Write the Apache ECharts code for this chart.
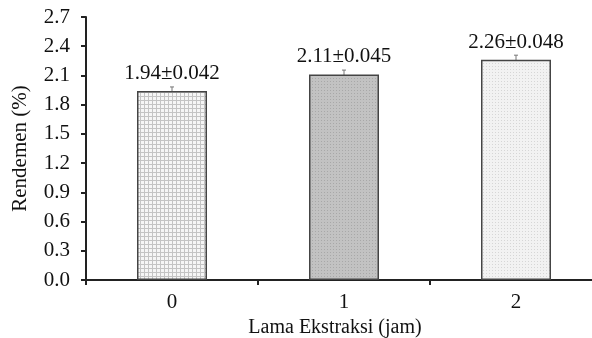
<!DOCTYPE html>
<html>
<head>
<meta charset="utf-8">
<script src="https://cdn.jsdelivr.net/npm/echarts@6/dist/echarts.min.js"></script>
<style>
  html, body { margin: 0; padding: 0; background: #fff; }
  #chart { width: 592px; height: 338px; }
</style>
</head>
<body>
<div id="chart"></div>
<script>
const categories = ['0', '1', '2'];
const means = [1.94, 2.11, 2.26];
const errors = [0.042, 0.045, 0.048];
const yMin = 0;
const yMax = 2.7;
const yStep = 0.3;

// small canvas fill patterns that imitate the hatch fills of the original
function makePattern(bg, fg, size, draw) {
  const c = document.createElement('canvas');
  c.width = size;
  c.height = size;
  const ctx = c.getContext('2d');
  ctx.fillStyle = bg;
  ctx.fillRect(0, 0, size, size);
  ctx.fillStyle = fg;
  draw(ctx);
  return { image: c, repeat: 'repeat' };
}
const gridFill = makePattern('#f6f6f6', '#c4c4c4', 4, function (ctx) {
  ctx.fillRect(0, 0, 4, 1);
  ctx.fillRect(0, 0, 1, 4);
});
const darkDots = makePattern('#c2c2c2', '#a8a8a8', 3, function (ctx) {
  ctx.fillRect(0, 0, 1, 1);
});
const lightDots = makePattern('#f2f2f2', '#d6d6d6', 3, function (ctx) {
  ctx.fillRect(0, 0, 1, 1);
});
const fills = [gridFill, darkDots, lightDots];

const font = 'Liberation Serif';

const chart = echarts.init(document.getElementById('chart'));
chart.setOption({
  animation: false,
  grid: { left: 86, top: 17, bottom: 58, right: -10, outerBoundsMode: 'none', containLabel: false },
  xAxis: {
    type: 'category',
    data: categories,
    name: 'Lama Ekstraksi (jam)',
    nameLocation: 'middle',
    nameGap: 35,
    nameTextStyle: { color: '#111', fontFamily: font, fontSize: 20, padding: [0, 18, 0, 0] },
    axisLine: { lineStyle: { color: '#222', width: 2 } },
    axisTick: { show: true, length: 5, lineStyle: { color: '#222', width: 2 } },
    axisLabel: { color: '#111', fontFamily: font, fontSize: 21, margin: 12 }
  },
  yAxis: {
    type: 'value',
    min: yMin,
    max: yMax,
    interval: yStep,
    name: 'Rendemen (%)',
    nameLocation: 'middle',
    nameGap: 55,
    nameTextStyle: { color: '#111', fontFamily: font, fontSize: 21 },
    splitLine: { show: false },
    axisLine: { show: true, lineStyle: { color: '#222', width: 2 } },
    axisTick: { show: true, length: 5, lineStyle: { color: '#222', width: 2 } },
    axisLabel: {
      color: '#111', fontFamily: font, fontSize: 21, margin: 16,
      formatter: function (v) { return v.toFixed(1); }
    }
  },
  series: [
    {
      type: 'bar',
      barWidth: 70,
      data: means.map(function (m, i) {
        return {
          value: m,
          itemStyle: { color: fills[i], borderColor: '#444', borderWidth: 1.5 }
        };
      }),
      label: {
        show: true,
        position: 'top',
        distance: 7,
        color: '#111',
        fontFamily: font,
        fontSize: 21,
        formatter: function (p) {
          return means[p.dataIndex].toFixed(2) + '±' + errors[p.dataIndex].toFixed(3);
        }
      },
      z: 3
    },
    {
      type: 'custom',
      data: means.map(function (m, i) { return [i, m - errors[i], m + errors[i]]; }),
      renderItem: function (params, api) {
        const lo = api.coord([api.value(0), api.value(1)]);
        const hi = api.coord([api.value(0), api.value(2)]);
        const cap = 2;
        const st = { stroke: '#777', lineWidth: 1 };
        return {
          type: 'group',
          children: [
            { type: 'line', shape: { x1: lo[0], y1: lo[1], x2: hi[0], y2: hi[1] }, style: st },
            { type: 'line', shape: { x1: hi[0] - cap, y1: hi[1], x2: hi[0] + cap, y2: hi[1] }, style: st }
          ]
        };
      },
      z: 2
    }
  ]
});
</script>
</body>
</html>
